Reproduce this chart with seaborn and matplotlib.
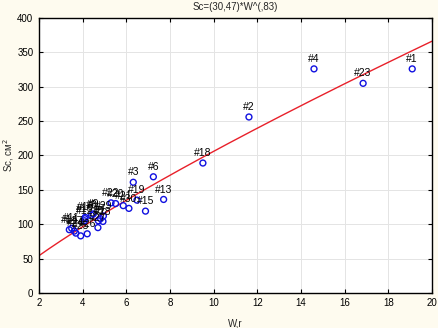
import numpy as np
import pandas as pd
import matplotlib
matplotlib.use("Agg")
import matplotlib.pyplot as plt
import seaborn as sns

# ---- data ----
labels = ["#1", "#23", "#4", "#2", "#18", "#6", "#3", "#13", "#15", "#19",
          "#14", "#11", "#17", "#24", "#25", "#12", "#16", "#10", "#26", "#8",
          "#9", "#27", "#5", "#7", "#28", "#29", "#22", "#20", "#21", "#30"]
w_values = [19.1, 16.85, 14.6, 11.62, 9.51, 7.24, 6.32, 7.71, 6.88, 6.49,
            3.39, 3.50, 3.62, 3.69, 3.91, 4.08, 4.10, 4.12, 4.21, 4.41,
            4.49, 4.70, 4.72, 4.82, 4.93, 4.95, 5.30, 5.51, 5.86, 6.12]
sc_values = [326, 305, 326, 256, 189, 169, 161, 136, 119, 135,
             92, 94, 90, 87, 83, 105, 108, 110, 86, 113,
             115, 95, 105, 108, 104, 112, 131, 130, 127, 123]
fit_a = 30.47
fit_b = 0.83
title_text = "Sc=(30,47)*W^(,83)"
x_ticks = [2, 4, 6, 8, 10, 12, 14, 16, 18, 20]
y_ticks = [0, 50, 100, 150, 200, 250, 300, 350, 400]

df = pd.DataFrame({"W": w_values, "Sc": sc_values, "label": labels})
xf = np.linspace(2, 20, 200)
fit_df = pd.DataFrame({"W": xf, "Sc": fit_a * xf ** fit_b})

sns.set_style("white")
plt.rcParams["font.family"] = ["Liberation Sans", "DejaVu Sans"]

fig = plt.figure(figsize=(4.38, 3.28), dpi=100, facecolor="#FEFBEF")
ax = fig.add_axes([0.089, 0.107, 0.897, 0.838])
ax.set_facecolor("white")

sns.lineplot(data=fit_df, x="W", y="Sc", ax=ax, color="#E8202A", lw=1.0, zorder=2)
sns.scatterplot(data=df, x="W", y="Sc", ax=ax, marker="o", s=18,
                facecolor="none", edgecolor="#1010E0", linewidth=1.0, zorder=3)
for _, r in df.iterrows():
    ax.annotate(r["label"], (r["W"], r["Sc"]), xytext=(0, 3.5),
                textcoords="offset points", ha="center", va="bottom",
                fontsize=7.5, color="black", zorder=4)

ax.set_xlim(2, 20)
ax.set_ylim(0, 400)
ax.set_xticks(x_ticks)
ax.set_yticks(y_ticks)
ax.grid(True, color="#E4E4E4", lw=0.7)
ax.set_axisbelow(True)
ax.tick_params(direction="in", length=3, labelsize=7, top=True, right=True,
               bottom=True, left=True, pad=4, colors="black")
for s in ax.spines.values():
    s.set_color("black")
    s.set_linewidth(1.0)
ax.set_title(title_text, fontsize=7, pad=6)
ax.set_xlabel("W,r", fontsize=7, labelpad=7)
ax.set_ylabel("Sc, см$^2$", fontsize=7)
ax.yaxis.set_label_coords(-0.058, 0.5)

fig.savefig("out.png", dpi=100, facecolor=fig.get_facecolor())
